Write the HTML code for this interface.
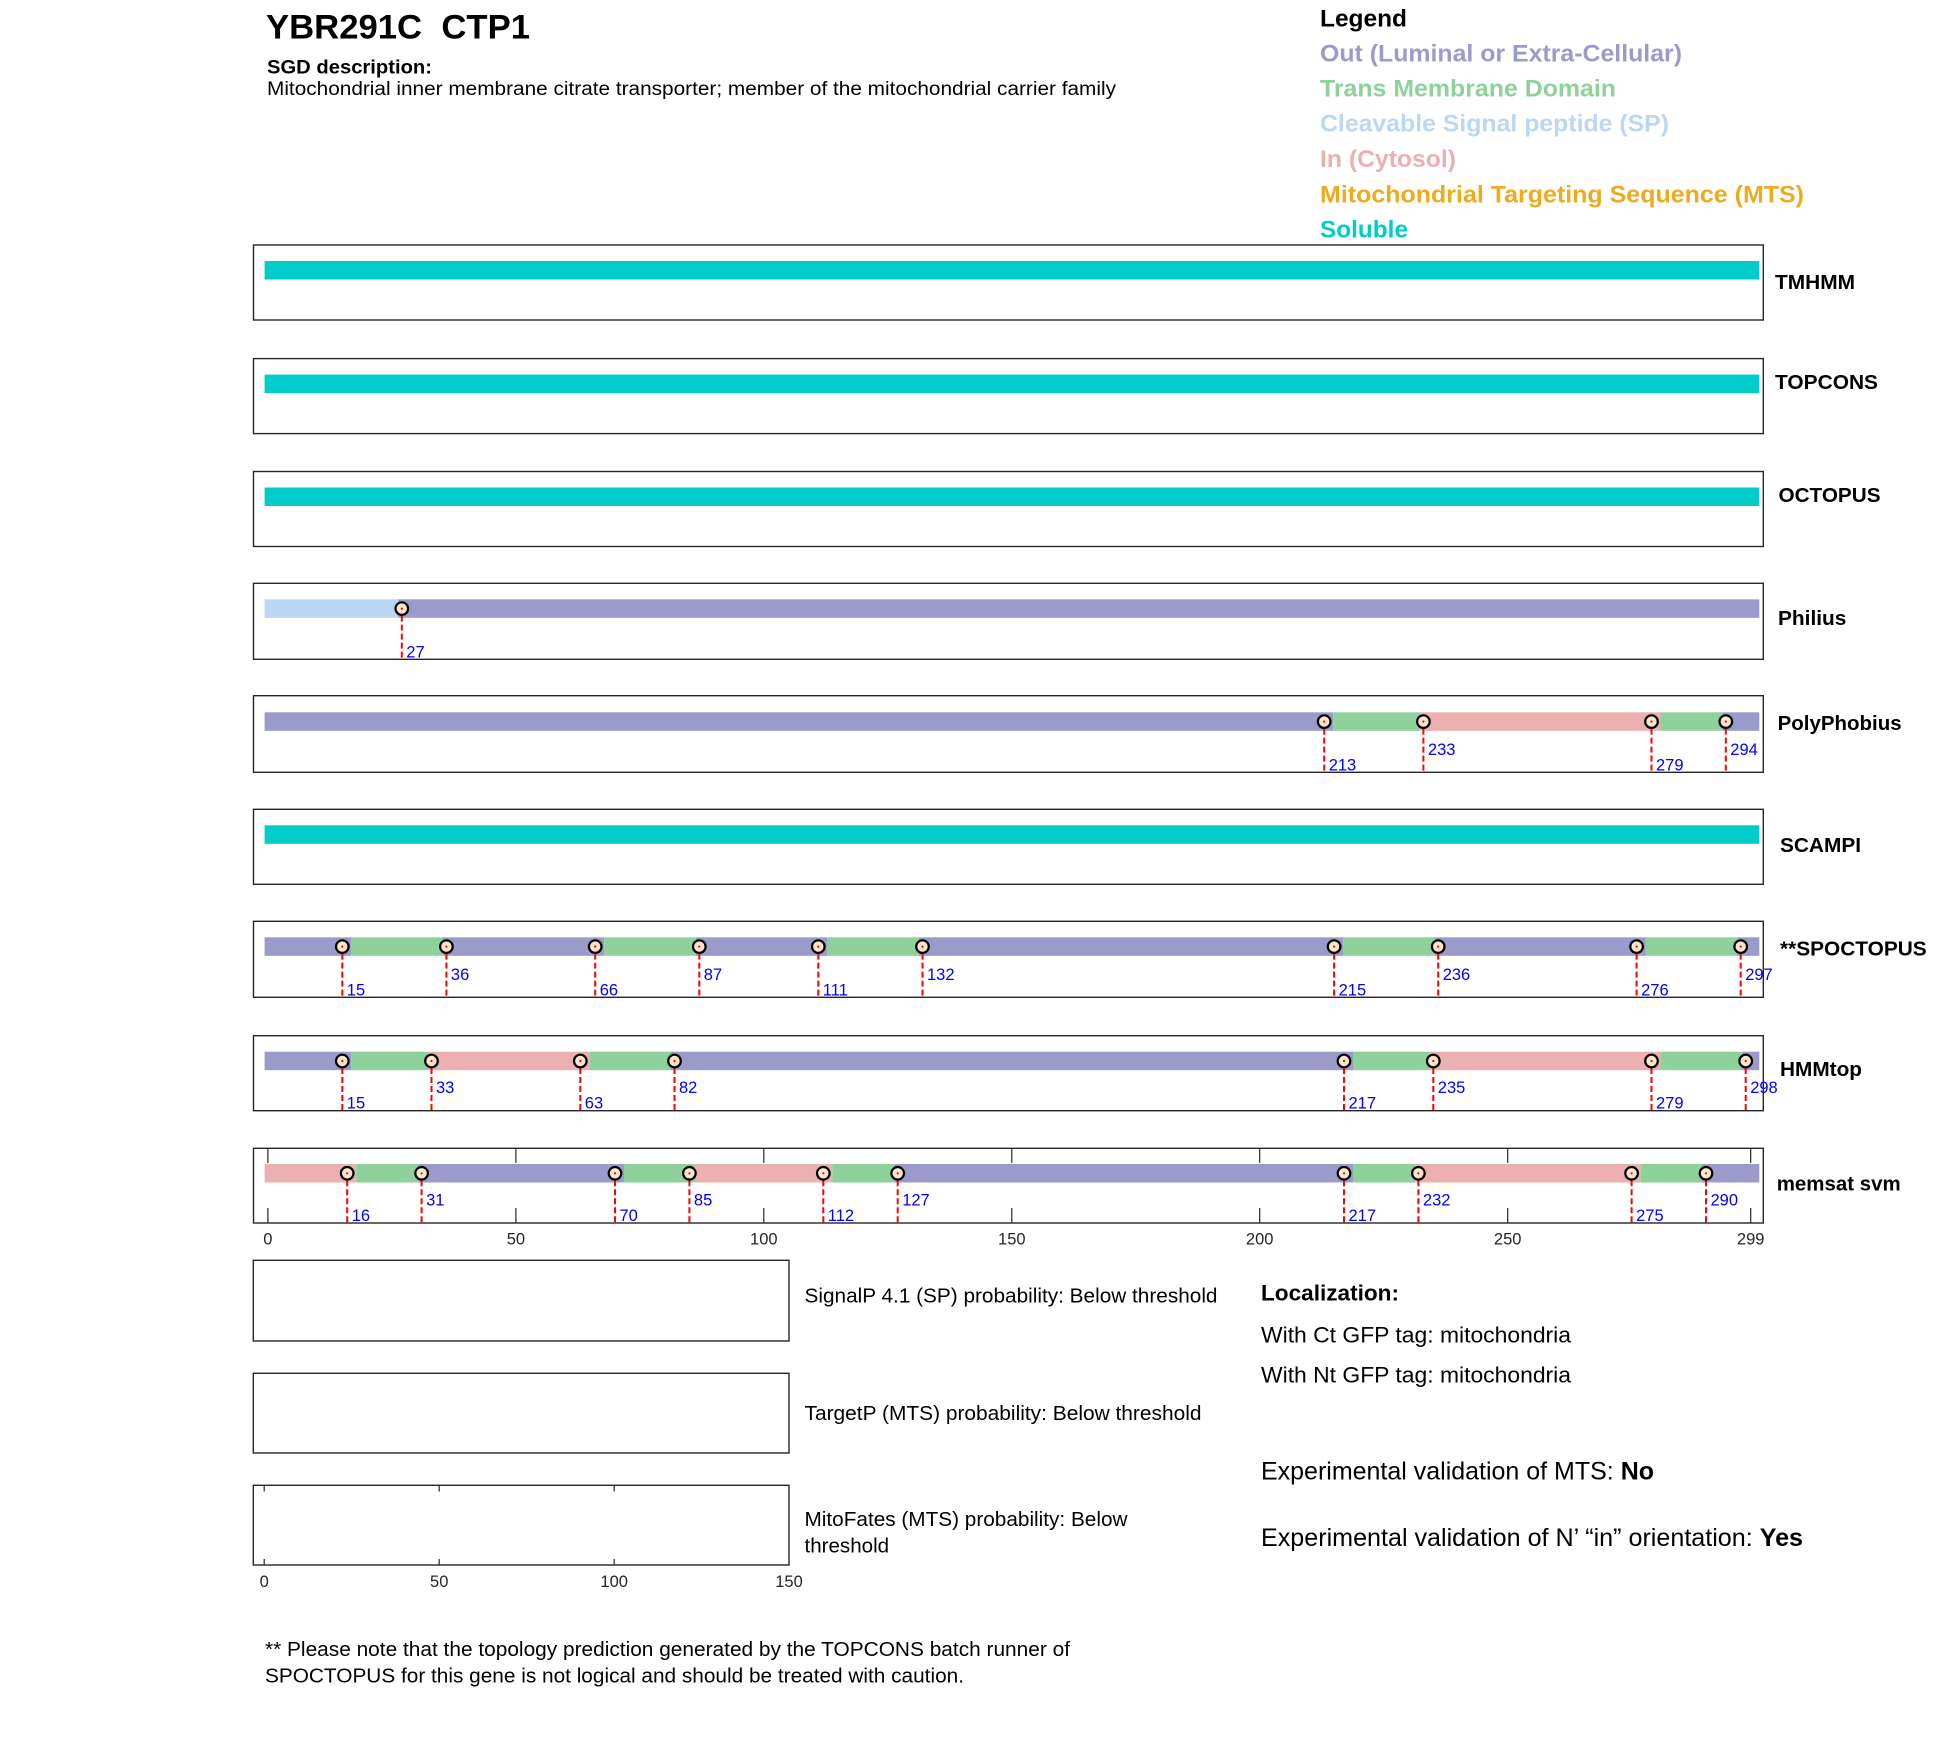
<!DOCTYPE html>
<html>
<head>
<meta charset="utf-8">
<style>
  html, body { margin:0; padding:0; background:#ffffff; }
  svg { display:block; }
  text { font-family: "Liberation Sans", Arial, Helvetica, sans-serif; }
  .lbl { font-size:20.5px; font-weight:bold; fill:#000; }
  .num { font-size:16.5px; fill:#0000ff; }
  .tick { font-size:16.5px; fill:#262626; }
  .box { fill:none; stroke:#262626; stroke-width:1.4; }
  .dash { stroke:#ff0000; stroke-width:2; stroke-dasharray:6 3; }
  .mk { fill:#fbe6cc; stroke:#000; stroke-width:2.2; }
  .dot { fill:#ff0000; }
  .out { fill:#9b9bcb; }
  .tm { fill:#8fd19b; }
  .inn { fill:#edb0b0; }
  .sp { fill:#bbd7f3; }
  .sol { fill:#00cccc; }
  .tk { stroke:#262626; stroke-width:1.2; }
</style>
</head>
<body>
<svg width="1950" height="1761" viewBox="0 0 1950 1761" xmlns="http://www.w3.org/2000/svg">
<rect x="0" y="0" width="1950" height="1761" fill="#ffffff"/>

<!-- Header -->
<text x="266" y="38.5" font-size="34.5" font-weight="bold" textLength="264" lengthAdjust="spacingAndGlyphs">YBR291C&#160; CTP1</text>
<text x="267" y="73.5" font-size="19" font-weight="bold" textLength="165" lengthAdjust="spacingAndGlyphs">SGD description:</text>
<text x="267" y="95" font-size="19" textLength="849" lengthAdjust="spacingAndGlyphs">Mitochondrial inner membrane citrate transporter; member of the mitochondrial carrier family</text>

<!-- Legend -->
<text x="1320" y="26.7" font-size="24" font-weight="bold" fill="#000" textLength="87" lengthAdjust="spacingAndGlyphs">Legend</text>
<text x="1320" y="61.7" font-size="24" font-weight="bold" fill="#9b9bcb" textLength="362" lengthAdjust="spacingAndGlyphs">Out (Luminal or Extra-Cellular)</text>
<text x="1320" y="96.7" font-size="24" font-weight="bold" fill="#8fd19b" textLength="296" lengthAdjust="spacingAndGlyphs">Trans Membrane Domain</text>
<text x="1320" y="131.7" font-size="24" font-weight="bold" fill="#bbd7f3" textLength="349" lengthAdjust="spacingAndGlyphs">Cleavable Signal peptide (SP)</text>
<text x="1320" y="167.2" font-size="24" font-weight="bold" fill="#edb0b0" textLength="136" lengthAdjust="spacingAndGlyphs">In (Cytosol)</text>
<text x="1320" y="202.5" font-size="24" font-weight="bold" fill="#efab1f" textLength="484" lengthAdjust="spacingAndGlyphs">Mitochondrial Targeting Sequence (MTS)</text>
<text x="1320" y="237.5" font-size="24" font-weight="bold" fill="#00cccc" textLength="88" lengthAdjust="spacingAndGlyphs">Soluble</text>

<!-- TMHMM -->
<rect class="box" x="253.5" y="245" width="1509.8" height="75"/>
<rect class="sol" x="264.6" y="261" width="1494.7" height="18.5"/>
<text class="lbl" x="1775" y="289" textLength="80" lengthAdjust="spacingAndGlyphs">TMHMM</text>

<!-- TOPCONS -->
<rect class="box" x="253.5" y="358.6" width="1509.8" height="75"/>
<rect class="sol" x="264.6" y="374.6" width="1494.7" height="18.5"/>
<text class="lbl" x="1775" y="389" textLength="103" lengthAdjust="spacingAndGlyphs">TOPCONS</text>

<!-- OCTOPUS -->
<rect class="box" x="253.5" y="471.5" width="1509.8" height="75"/>
<rect class="sol" x="264.6" y="487.5" width="1494.7" height="18.5"/>
<text class="lbl" x="1778.5" y="502" textLength="102" lengthAdjust="spacingAndGlyphs">OCTOPUS</text>

<!-- Philius -->
<rect class="box" x="253.5" y="583.3" width="1509.8" height="76"/>
<rect class="sp" x="264.6" y="599.3" width="133.7" height="18.5"/>
<rect class="out" x="398.3" y="599.3" width="1361" height="18.5"/>
<line class="dash" x1="401.8" y1="615.6" x2="401.8" y2="659.3"/>
<circle class="mk" cx="401.8" cy="608.6" r="6.3"/><circle class="dot" cx="401.8" cy="608.6" r="1.1"/>
<text class="num" x="406.3" y="657.3">27</text>
<text class="lbl" x="1778" y="625" textLength="68.4" lengthAdjust="spacingAndGlyphs">Philius</text>

<!-- PolyPhobius -->
<rect class="box" x="253.5" y="695.7" width="1509.8" height="76.6"/>
<rect class="out" x="264.6" y="712.3" width="1068.6" height="18.5"/>
<rect class="tm" x="1333.2" y="712.3" width="86.7" height="18.5"/>
<rect class="inn" x="1419.9" y="712.3" width="240.6" height="18.5"/>
<rect class="tm" x="1660.5" y="712.3" width="61.8" height="18.5"/>
<rect class="out" x="1722.3" y="712.3" width="37" height="18.5"/>
<g>
<line class="dash" x1="1324.2" y1="728.6" x2="1324.2" y2="772.3"/>
<line class="dash" x1="1423.4" y1="728.6" x2="1423.4" y2="772.3"/>
<line class="dash" x1="1651.5" y1="728.6" x2="1651.5" y2="772.3"/>
<line class="dash" x1="1725.8" y1="728.6" x2="1725.8" y2="772.3"/>
<circle class="mk" cx="1324.2" cy="721.6" r="6.3"/><circle class="dot" cx="1324.2" cy="721.6" r="1.1"/>
<circle class="mk" cx="1423.4" cy="721.6" r="6.3"/><circle class="dot" cx="1423.4" cy="721.6" r="1.1"/>
<circle class="mk" cx="1651.5" cy="721.6" r="6.3"/><circle class="dot" cx="1651.5" cy="721.6" r="1.1"/>
<circle class="mk" cx="1725.8" cy="721.6" r="6.3"/><circle class="dot" cx="1725.8" cy="721.6" r="1.1"/>
<text class="num" x="1328.7" y="770.3">213</text>
<text class="num" x="1427.9" y="754.8">233</text>
<text class="num" x="1656" y="770.3">279</text>
<text class="num" x="1730.3" y="754.8">294</text>
</g>
<text class="lbl" x="1777.6" y="730" textLength="124" lengthAdjust="spacingAndGlyphs">PolyPhobius</text>

<!-- SCAMPI -->
<rect class="box" x="253.5" y="809.3" width="1509.8" height="75"/>
<rect class="sol" x="264.6" y="825.3" width="1494.7" height="18.5"/>
<text class="lbl" x="1780" y="852" textLength="81" lengthAdjust="spacingAndGlyphs">SCAMPI</text>

<!-- SPOCTOPUS -->
<rect class="box" x="253.5" y="921.3" width="1509.8" height="76"/>
<g>
<rect class="out" x="264.6" y="937.3" width="86.7" height="18.5"/>
<rect class="tm" x="351.3" y="937.3" width="91.6" height="18.5"/>
<rect class="out" x="442.9" y="937.3" width="161.3" height="18.5"/>
<rect class="tm" x="604.2" y="937.3" width="91.6" height="18.5"/>
<rect class="out" x="695.8" y="937.3" width="131.5" height="18.5"/>
<rect class="tm" x="827.3" y="937.3" width="91.7" height="18.5"/>
<rect class="out" x="919" y="937.3" width="424.1" height="18.5"/>
<rect class="tm" x="1343.1" y="937.3" width="91.6" height="18.5"/>
<rect class="out" x="1434.7" y="937.3" width="210.9" height="18.5"/>
<rect class="tm" x="1645.6" y="937.3" width="91.6" height="18.5"/>
<rect class="out" x="1737.2" y="937.3" width="22.1" height="18.5"/>
</g>
<g>
<line class="dash" x1="342.3" y1="953.6" x2="342.3" y2="997.3"/>
<line class="dash" x1="446.4" y1="953.6" x2="446.4" y2="997.3"/>
<line class="dash" x1="595.2" y1="953.6" x2="595.2" y2="997.3"/>
<line class="dash" x1="699.3" y1="953.6" x2="699.3" y2="997.3"/>
<line class="dash" x1="818.3" y1="953.6" x2="818.3" y2="997.3"/>
<line class="dash" x1="922.5" y1="953.6" x2="922.5" y2="997.3"/>
<line class="dash" x1="1334.1" y1="953.6" x2="1334.1" y2="997.3"/>
<line class="dash" x1="1438.2" y1="953.6" x2="1438.2" y2="997.3"/>
<line class="dash" x1="1636.6" y1="953.6" x2="1636.6" y2="997.3"/>
<line class="dash" x1="1740.7" y1="953.6" x2="1740.7" y2="997.3"/>
<circle class="mk" cx="342.3" cy="946.6" r="6.3"/><circle class="dot" cx="342.3" cy="946.6" r="1.1"/>
<circle class="mk" cx="446.4" cy="946.6" r="6.3"/><circle class="dot" cx="446.4" cy="946.6" r="1.1"/>
<circle class="mk" cx="595.2" cy="946.6" r="6.3"/><circle class="dot" cx="595.2" cy="946.6" r="1.1"/>
<circle class="mk" cx="699.3" cy="946.6" r="6.3"/><circle class="dot" cx="699.3" cy="946.6" r="1.1"/>
<circle class="mk" cx="818.3" cy="946.6" r="6.3"/><circle class="dot" cx="818.3" cy="946.6" r="1.1"/>
<circle class="mk" cx="922.5" cy="946.6" r="6.3"/><circle class="dot" cx="922.5" cy="946.6" r="1.1"/>
<circle class="mk" cx="1334.1" cy="946.6" r="6.3"/><circle class="dot" cx="1334.1" cy="946.6" r="1.1"/>
<circle class="mk" cx="1438.2" cy="946.6" r="6.3"/><circle class="dot" cx="1438.2" cy="946.6" r="1.1"/>
<circle class="mk" cx="1636.6" cy="946.6" r="6.3"/><circle class="dot" cx="1636.6" cy="946.6" r="1.1"/>
<circle class="mk" cx="1740.7" cy="946.6" r="6.3"/><circle class="dot" cx="1740.7" cy="946.6" r="1.1"/>
<text class="num" x="346.8" y="995.3">15</text>
<text class="num" x="450.9" y="979.8">36</text>
<text class="num" x="599.7" y="995.3">66</text>
<text class="num" x="703.8" y="979.8">87</text>
<text class="num" x="822.8" y="995.3">111</text>
<text class="num" x="927" y="979.8">132</text>
<text class="num" x="1338.6" y="995.3">215</text>
<text class="num" x="1442.7" y="979.8">236</text>
<text class="num" x="1641.1" y="995.3">276</text>
<text class="num" x="1745.2" y="979.8">297</text>
</g>
<text class="lbl" x="1780" y="955.7" textLength="146.7" lengthAdjust="spacingAndGlyphs">**SPOCTOPUS</text>

<!-- HMMtop -->
<rect class="box" x="253.5" y="1035.7" width="1509.8" height="75"/>
<g>
<rect class="out" x="264.6" y="1051.7" width="86.7" height="18.5"/>
<rect class="tm" x="351.3" y="1051.7" width="76.7" height="18.5"/>
<rect class="inn" x="428" y="1051.7" width="161.3" height="18.5"/>
<rect class="tm" x="589.3" y="1051.7" width="81.7" height="18.5"/>
<rect class="out" x="671" y="1051.7" width="682" height="18.5"/>
<rect class="tm" x="1353" y="1051.7" width="76.8" height="18.5"/>
<rect class="inn" x="1429.8" y="1051.7" width="230.7" height="18.5"/>
<rect class="tm" x="1660.5" y="1051.7" width="81.7" height="18.5"/>
<rect class="out" x="1742.2" y="1051.7" width="17.1" height="18.5"/>
</g>
<g>
<line class="dash" x1="342.3" y1="1068" x2="342.3" y2="1110.7"/>
<line class="dash" x1="431.5" y1="1068" x2="431.5" y2="1110.7"/>
<line class="dash" x1="580.3" y1="1068" x2="580.3" y2="1110.7"/>
<line class="dash" x1="674.5" y1="1068" x2="674.5" y2="1110.7"/>
<line class="dash" x1="1344" y1="1068" x2="1344" y2="1110.7"/>
<line class="dash" x1="1433.3" y1="1068" x2="1433.3" y2="1110.7"/>
<line class="dash" x1="1651.5" y1="1068" x2="1651.5" y2="1110.7"/>
<line class="dash" x1="1745.7" y1="1068" x2="1745.7" y2="1110.7"/>
<circle class="mk" cx="342.3" cy="1061" r="6.3"/><circle class="dot" cx="342.3" cy="1061" r="1.1"/>
<circle class="mk" cx="431.5" cy="1061" r="6.3"/><circle class="dot" cx="431.5" cy="1061" r="1.1"/>
<circle class="mk" cx="580.3" cy="1061" r="6.3"/><circle class="dot" cx="580.3" cy="1061" r="1.1"/>
<circle class="mk" cx="674.5" cy="1061" r="6.3"/><circle class="dot" cx="674.5" cy="1061" r="1.1"/>
<circle class="mk" cx="1344" cy="1061" r="6.3"/><circle class="dot" cx="1344" cy="1061" r="1.1"/>
<circle class="mk" cx="1433.3" cy="1061" r="6.3"/><circle class="dot" cx="1433.3" cy="1061" r="1.1"/>
<circle class="mk" cx="1651.5" cy="1061" r="6.3"/><circle class="dot" cx="1651.5" cy="1061" r="1.1"/>
<circle class="mk" cx="1745.7" cy="1061" r="6.3"/><circle class="dot" cx="1745.7" cy="1061" r="1.1"/>
<text class="num" x="346.8" y="1108.7">15</text>
<text class="num" x="436" y="1093.2">33</text>
<text class="num" x="584.8" y="1108.7">63</text>
<text class="num" x="679" y="1093.2">82</text>
<text class="num" x="1348.5" y="1108.7">217</text>
<text class="num" x="1437.8" y="1093.2">235</text>
<text class="num" x="1656" y="1108.7">279</text>
<text class="num" x="1750.2" y="1093.2">298</text>
</g>
<text class="lbl" x="1780" y="1076" textLength="82" lengthAdjust="spacingAndGlyphs">HMMtop</text>

<!-- memsat svm -->
<g>
<line class="tk" x1="267.9" y1="1148.3" x2="267.9" y2="1163"/><line class="tk" x1="267.9" y1="1223" x2="267.9" y2="1208"/>
<line class="tk" x1="515.9" y1="1148.3" x2="515.9" y2="1163"/><line class="tk" x1="515.9" y1="1223" x2="515.9" y2="1208"/>
<line class="tk" x1="763.8" y1="1148.3" x2="763.8" y2="1163"/><line class="tk" x1="763.8" y1="1223" x2="763.8" y2="1208"/>
<line class="tk" x1="1011.8" y1="1148.3" x2="1011.8" y2="1163"/><line class="tk" x1="1011.8" y1="1223" x2="1011.8" y2="1208"/>
<line class="tk" x1="1259.7" y1="1148.3" x2="1259.7" y2="1163"/><line class="tk" x1="1259.7" y1="1223" x2="1259.7" y2="1208"/>
<line class="tk" x1="1507.7" y1="1148.3" x2="1507.7" y2="1163"/><line class="tk" x1="1507.7" y1="1223" x2="1507.7" y2="1208"/>
<line class="tk" x1="1750.7" y1="1148.3" x2="1750.7" y2="1163"/><line class="tk" x1="1750.7" y1="1223" x2="1750.7" y2="1208"/>
</g>
<rect class="box" x="253.5" y="1148.3" width="1509.8" height="74.7"/>
<g>
<rect class="inn" x="264.6" y="1164" width="91.6" height="18.5"/>
<rect class="tm" x="356.2" y="1164" width="61.9" height="18.5"/>
<rect class="out" x="418.1" y="1164" width="205.9" height="18.5"/>
<rect class="tm" x="624" y="1164" width="71" height="18.5"/>
<rect class="inn" x="695" y="1164" width="137.3" height="18.5"/>
<rect class="tm" x="832.3" y="1164" width="61.9" height="18.5"/>
<rect class="out" x="894.2" y="1164" width="458.8" height="18.5"/>
<rect class="tm" x="1353" y="1164" width="61.9" height="18.5"/>
<rect class="inn" x="1414.9" y="1164" width="225.7" height="18.5"/>
<rect class="tm" x="1640.6" y="1164" width="61.9" height="18.5"/>
<rect class="out" x="1702.5" y="1164" width="56.8" height="18.5"/>
</g>
<g>
<line class="dash" x1="347.2" y1="1180.3" x2="347.2" y2="1223"/>
<line class="dash" x1="421.6" y1="1180.3" x2="421.6" y2="1223"/>
<line class="dash" x1="615" y1="1180.3" x2="615" y2="1223"/>
<line class="dash" x1="689.4" y1="1180.3" x2="689.4" y2="1223"/>
<line class="dash" x1="823.3" y1="1180.3" x2="823.3" y2="1223"/>
<line class="dash" x1="897.7" y1="1180.3" x2="897.7" y2="1223"/>
<line class="dash" x1="1344" y1="1180.3" x2="1344" y2="1223"/>
<line class="dash" x1="1418.4" y1="1180.3" x2="1418.4" y2="1223"/>
<line class="dash" x1="1631.6" y1="1180.3" x2="1631.6" y2="1223"/>
<line class="dash" x1="1706" y1="1180.3" x2="1706" y2="1223"/>
<circle class="mk" cx="347.2" cy="1173.3" r="6.3"/><circle class="dot" cx="347.2" cy="1173.3" r="1.1"/>
<circle class="mk" cx="421.6" cy="1173.3" r="6.3"/><circle class="dot" cx="421.6" cy="1173.3" r="1.1"/>
<circle class="mk" cx="615" cy="1173.3" r="6.3"/><circle class="dot" cx="615" cy="1173.3" r="1.1"/>
<circle class="mk" cx="689.4" cy="1173.3" r="6.3"/><circle class="dot" cx="689.4" cy="1173.3" r="1.1"/>
<circle class="mk" cx="823.3" cy="1173.3" r="6.3"/><circle class="dot" cx="823.3" cy="1173.3" r="1.1"/>
<circle class="mk" cx="897.7" cy="1173.3" r="6.3"/><circle class="dot" cx="897.7" cy="1173.3" r="1.1"/>
<circle class="mk" cx="1344" cy="1173.3" r="6.3"/><circle class="dot" cx="1344" cy="1173.3" r="1.1"/>
<circle class="mk" cx="1418.4" cy="1173.3" r="6.3"/><circle class="dot" cx="1418.4" cy="1173.3" r="1.1"/>
<circle class="mk" cx="1631.6" cy="1173.3" r="6.3"/><circle class="dot" cx="1631.6" cy="1173.3" r="1.1"/>
<circle class="mk" cx="1706" cy="1173.3" r="6.3"/><circle class="dot" cx="1706" cy="1173.3" r="1.1"/>
<text class="num" x="351.7" y="1221">16</text>
<text class="num" x="426.1" y="1205.5">31</text>
<text class="num" x="619.5" y="1221">70</text>
<text class="num" x="693.9" y="1205.5">85</text>
<text class="num" x="827.8" y="1221">112</text>
<text class="num" x="902.2" y="1205.5">127</text>
<text class="num" x="1348.5" y="1221">217</text>
<text class="num" x="1422.9" y="1205.5">232</text>
<text class="num" x="1636.1" y="1221">275</text>
<text class="num" x="1710.5" y="1205.5">290</text>
</g>
<g text-anchor="middle">
<text class="tick" x="267.9" y="1244.3">0</text>
<text class="tick" x="515.9" y="1244.3">50</text>
<text class="tick" x="763.8" y="1244.3">100</text>
<text class="tick" x="1011.8" y="1244.3">150</text>
<text class="tick" x="1259.7" y="1244.3">200</text>
<text class="tick" x="1507.7" y="1244.3">250</text>
<text class="tick" x="1750.7" y="1244.3">299</text>
</g>
<text class="lbl" x="1776.7" y="1190.7" textLength="124" lengthAdjust="spacingAndGlyphs">memsat svm</text>

<!-- Bottom-left panels -->
<rect class="box" x="253.3" y="1260.3" width="535.7" height="80.7"/>
<rect class="box" x="253.3" y="1373.3" width="535.7" height="79.7"/>
<g>
<line class="tk" x1="264.2" y1="1485.3" x2="264.2" y2="1491.5"/><line class="tk" x1="264.2" y1="1565" x2="264.2" y2="1559"/>
<line class="tk" x1="439.2" y1="1485.3" x2="439.2" y2="1491.5"/><line class="tk" x1="439.2" y1="1565" x2="439.2" y2="1559"/>
<line class="tk" x1="614.2" y1="1485.3" x2="614.2" y2="1491.5"/><line class="tk" x1="614.2" y1="1565" x2="614.2" y2="1559"/>
</g>
<rect class="box" x="253.3" y="1485.3" width="535.7" height="79.7"/>
<g text-anchor="middle">
<text class="tick" x="264.2" y="1587">0</text>
<text class="tick" x="439.2" y="1587">50</text>
<text class="tick" x="614.2" y="1587">100</text>
<text class="tick" x="789" y="1587">150</text>
</g>

<text x="804.5" y="1302.3" font-size="20" fill="#000" textLength="413" lengthAdjust="spacingAndGlyphs">SignalP 4.1 (SP) probability: Below threshold</text>
<text x="804.5" y="1420" font-size="20" fill="#000" textLength="397" lengthAdjust="spacingAndGlyphs">TargetP (MTS) probability: Below threshold</text>
<text x="804.5" y="1526" font-size="20" fill="#000" textLength="323" lengthAdjust="spacingAndGlyphs">MitoFates (MTS) probability: Below</text>
<text x="804.5" y="1552.7" font-size="20" fill="#000" textLength="84.6" lengthAdjust="spacingAndGlyphs">threshold</text>

<!-- Right info -->
<text x="1261" y="1300.5" font-size="22" font-weight="bold" fill="#000" textLength="138" lengthAdjust="spacingAndGlyphs">Localization:</text>
<text x="1261" y="1342.7" font-size="22.5" fill="#000" textLength="310" lengthAdjust="spacingAndGlyphs">With Ct GFP tag: mitochondria</text>
<text x="1261" y="1382.7" font-size="22.5" fill="#000" textLength="310" lengthAdjust="spacingAndGlyphs">With Nt GFP tag: mitochondria</text>
<text x="1261" y="1479.5" font-size="25" fill="#000" textLength="393" lengthAdjust="spacingAndGlyphs">Experimental validation of MTS: <tspan font-weight="bold">No</tspan></text>
<text x="1261" y="1546" font-size="25" fill="#000" textLength="542" lengthAdjust="spacingAndGlyphs">Experimental validation of N’ “in” orientation: <tspan font-weight="bold">Yes</tspan></text>

<!-- Footnote -->
<text x="265" y="1656" font-size="20" fill="#000" textLength="805" lengthAdjust="spacingAndGlyphs">** Please note that the topology prediction generated by the TOPCONS batch runner of</text>
<text x="265" y="1682.5" font-size="20" fill="#000" textLength="699" lengthAdjust="spacingAndGlyphs">SPOCTOPUS for this gene is not logical and should be treated with caution.</text>
</svg>
</body>
</html>
